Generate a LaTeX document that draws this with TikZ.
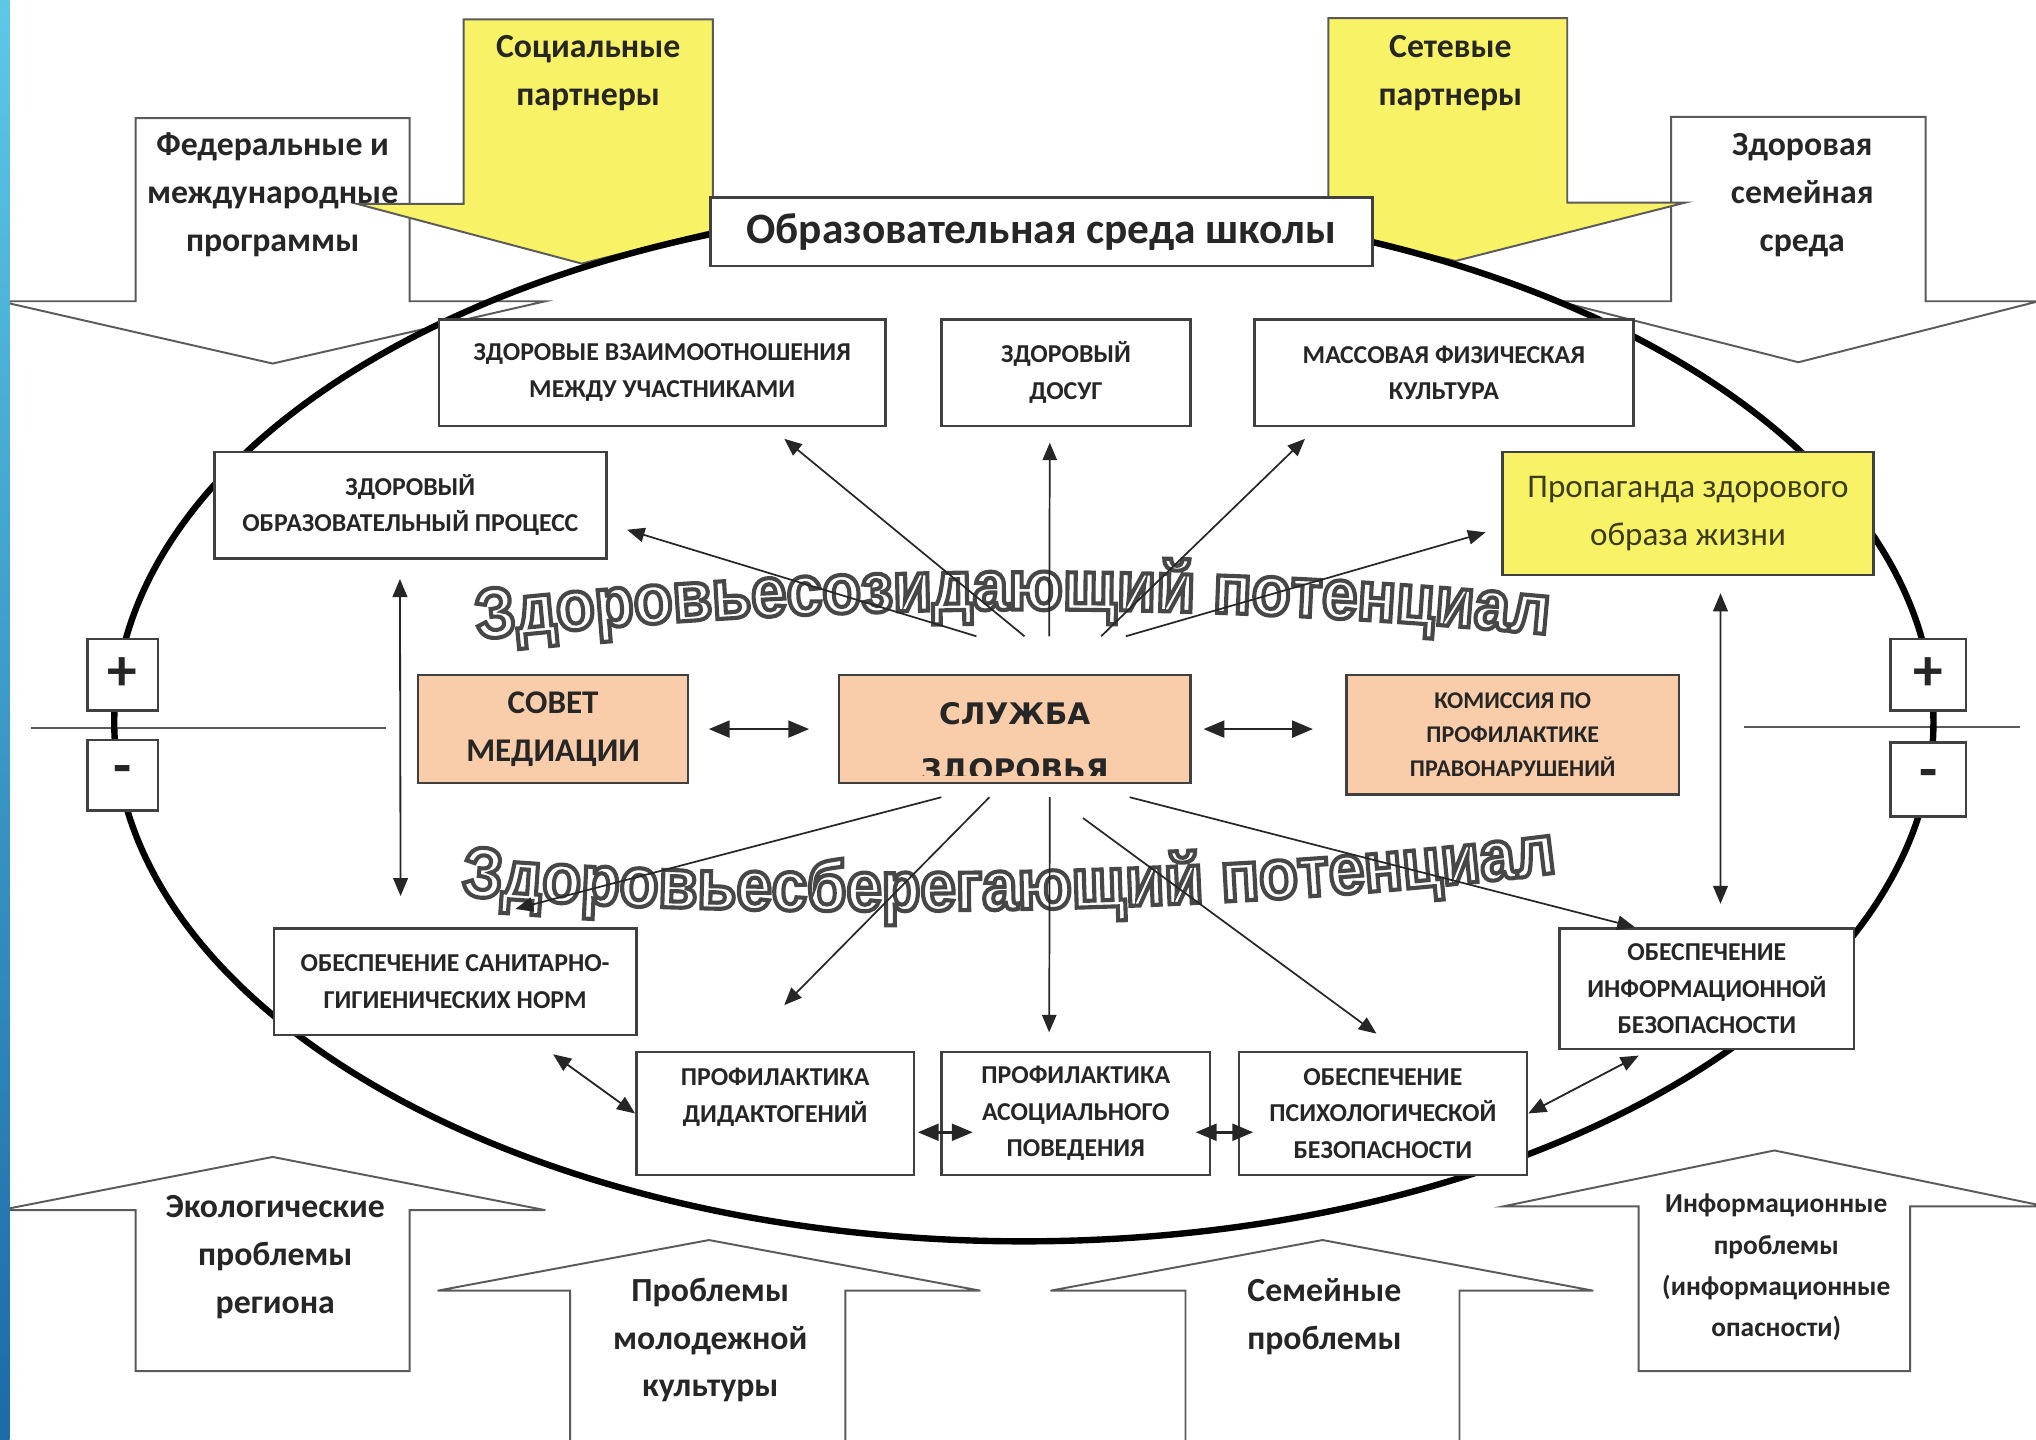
\documentclass[tikz,border=0pt]{standalone}
\usepackage{fontspec}
\setmainfont{Carlito}
\newfontfamily\verdanalike{DejaVu Sans}
\newfontfamily\wordartfamily{Liberation Sans}[FakeStretch=0.9]
\usepackage{tikz}
\usetikzlibrary{arrows,calc,decorations.text}

\definecolor{peach}{HTML}{FACDAA}
\definecolor{lemon}{HTML}{F8F366}
\definecolor{framegray}{HTML}{404040}
\definecolor{shapegray}{HTML}{5A5A5A}
\definecolor{inkgray}{HTML}{262626}
\definecolor{olivegray}{HTML}{3B3B1F}
\definecolor{striptop}{HTML}{5CC8E6}
\definecolor{stripbottom}{HTML}{1C6AA6}

\newcommand\wafont{\wordartfamily\bfseries\fontsize{31}{31}\selectfont}
% outlined letters: white fill, gray stroke
\newcommand\outlined{\color{white}\special{pdf:literal direct 0.28 0.28 0.28 RG 1.8 w 2 Tr}}
\newcommand\wordart[2]{%
  \begin{scope}
    \path[decorate, decoration={text along path, text align=center,
      text={|\wafont\outlined|#2}}] #1;
  \end{scope}}

\begin{document}
\begin{tikzpicture}[x=0.2mm, y=-0.2mm, >=triangle 45,
  wh/.style 2 args={minimum width=#1*0.2mm, minimum height=#2*0.2mm},
  box/.style={draw=framegray, line width=1.1pt, fill=white, inner sep=1pt,
    align=center, text=inkgray, font=\bfseries\fontsize{11.3}{16}\selectfont},
  sign/.style={box, font=\bfseries\fontsize{26}{26}\selectfont},
  blockarrow/.style={draw=shapegray, line width=0.85pt, fill=white},
  arrowtext/.style={align=center, text=inkgray,
    font=\bfseries\fontsize{14.8}{21}\selectfont},
  link/.style={->, draw=inkgray, line width=0.75pt},
  both/.style={<->, draw=inkgray, line width=0.8pt},
  axisline/.style={draw=shapegray, line width=0.9pt}]

  \useasboundingbox (0,0) rectangle (1568,1109);

  % influences from above
  \draw[blockarrow] (104.5,91) -- (315.5,91) -- (315.5,232) -- (420,232) -- (210,280)
    -- (0,232) -- (104.5,232) -- cycle;
  \node[arrowtext] (federal) at (210,150) {Федеральные и\\международные\\программы};
  \draw[blockarrow] (1287,90) -- (1483,90) -- (1483,232) -- (1570,232) -- (1385,279)
    -- (1200,232) -- (1287,232) -- cycle;
  \node[arrowtext] (familyenv) at (1388,150) {Здоровая\\семейная\\среда};
  \draw[blockarrow, fill=lemon] (357,15) -- (549,15) -- (549,157) -- (631,157) -- (448,203)
    -- (275,157) -- (357,157) -- cycle;
  \node[arrowtext] (social) at (453,56) {Социальные\\партнеры};
  \draw[blockarrow, fill=lemon] (1023,14) -- (1207,14) -- (1207,156) -- (1298,156) -- (1121,201)
    -- (932,156) -- (1023,156) -- cycle;
  \node[arrowtext] (network) at (1117,56) {Сетевые\\партнеры};

  % problems from below
  \draw[blockarrow] (104.5,1056) -- (315.5,1056) -- (315.5,932) -- (420,932) -- (210,891)
    -- (0,932) -- (104.5,932) -- cycle;
  \node[arrowtext] (ecology) at (212,968) {Экологические\\проблемы\\региона};
  \draw[blockarrow] (439,1120) -- (651,1120) -- (651,994) -- (755,994) -- (546,955)
    -- (337,994) -- (439,994) -- cycle;
  \node[arrowtext] (youth) at (547,1032) {Проблемы\\молодежной\\культуры};
  \draw[blockarrow] (913,1120) -- (1124,1120) -- (1124,994) -- (1227,994) -- (1018.5,955)
    -- (809,994) -- (913,994) -- cycle;
  \node[arrowtext] (familyprob) at (1020,1014) {Семейные\\проблемы};
  \draw[blockarrow] (1262,1056) -- (1471,1056) -- (1471,929) -- (1575,929) -- (1366.5,886)
    -- (1158,929) -- (1262,929) -- cycle;
  \node[arrowtext, font=\bfseries\fontsize{12}{18}\selectfont] (infoprob) at (1368,976)
    {Информационные\\проблемы\\(информационные\\опасности)};

  % scale lines
  \coordinate (axisLa) at (24,561);
  \coordinate (axisLb) at (297,561);
  \coordinate (axisRa) at (1343,560);
  \coordinate (axisRb) at (1556,560);
  \draw[axisline] (axisLa) -- (axisLb);
  \draw[axisline] (axisRa) -- (axisRb);

  \draw[line width=2.8pt] (788.5,556) ellipse [x radius=14.01cm, y radius=8cm];

  \node[box, wh={510}{53}, font=\bfseries\fontsize{19}{23}\selectfont] (school) at (802,178.5)
    {Образовательная среда школы};

  \wordart{(352,494) .. controls (640,462) and (920,462) .. (1208,490)}{Здоровьесозидающий потенциал}
  \wordart{(340,688) .. controls (500,705) and (900,712) .. (1214,670)}{Здоровьесберегающий потенциал}

  % upper boxes
  \node[box, wh={344}{82}] (relations) at (510,287) {ЗДОРОВЫЕ ВЗАИМООТНОШЕНИЯ\\МЕЖДУ УЧАСТНИКАМИ};
  \node[box, wh={192}{82}] (leisure) at (821,287) {ЗДОРОВЫЙ\\ДОСУГ};
  \node[box, wh={292}{82}] (sport) at (1112,287) {МАССОВАЯ ФИЗИЧЕСКАЯ\\КУЛЬТУРА};
  \node[box, wh={302}{82}] (process) at (316,389) {ЗДОРОВЫЙ\\ОБРАЗОВАТЕЛЬНЫЙ ПРОЦЕСС};
  \node[box, wh={286}{95}, fill=lemon, text=olivegray, font=\fontsize{14.5}{21}\selectfont]
    (propaganda) at (1300,395.5) {Пропаганда здорового\\образа жизни};

  % middle row
  \node[box, wh={208}{83}, fill=peach, font=\bfseries\fontsize{14.5}{21}\selectfont] (sovet) at (426,561.5)
    {СОВЕТ\\МЕДИАЦИИ};
  \node[box, wh={271}{83}, fill=peach, path picture={
      \clip ([yshift=0.12cm]path picture bounding box.south west)
        rectangle (path picture bounding box.north east);
      \node[align=center, text=inkgray, font=\verdanalike\bfseries\fontsize{13}{24.5}\selectfont]
        (servicetext) at ([yshift=-0.22cm]path picture bounding box.center) {СЛУЖБА\\ЗДОРОВЬЯ};
    }] (service) at (781.5,561.5) {};
  \node[box, wh={256}{92}, fill=peach, font=\bfseries\fontsize{10.5}{14.8}\selectfont]
    (commission) at (1165,566) {КОМИССИЯ ПО\\ПРОФИЛАКТИКЕ\\ПРАВОНАРУШЕНИЙ};

  % lower boxes
  \node[box, wh={279}{82}] (sanitary) at (350.5,756) {ОБЕСПЕЧЕНИЕ САНИТАРНО-\\ГИГИЕНИЧЕСКИХ НОРМ};
  \node[box, wh={227}{93}] (infosafety) at (1314.5,761.5) {ОБЕСПЕЧЕНИЕ\\ИНФОРМАЦИОННОЙ\\БЕЗОПАСНОСТИ};
  \node[box, wh={214}{95}] (didactogeny) at (597,857.5) {ПРОФИЛАКТИКА\\ДИДАКТОГЕНИЙ\\\mbox{}};
  \node[box, wh={207}{95}] (asocial) at (828.5,857.5) {ПРОФИЛАКТИКА\\АСОЦИАЛЬНОГО\\ПОВЕДЕНИЯ};
  \node[box, wh={222}{95}] (psychsafety) at (1065,857.5) {ОБЕСПЕЧЕНИЕ\\ПСИХОЛОГИЧЕСКОЙ\\БЕЗОПАСНОСТИ};

  % from the service upwards
  \draw[link] ($(service.north)+(-29.5,-29)$) -- ($(process.east)+(15,19)$);
  \draw[link] ($(service.north)+(7.5,-29)$) -- ($(relations.south)+(94,9)$);
  \draw[link] ($(service.north)+(26.5,-29)$) -- ($(leisure.south)+(-12.5,12)$);
  \draw[link] ($(service.north)+(66.5,-29)$) -- ($(sport.south)+(-107,9)$);
  \draw[link] ($(service.north)+(85.5,-29)$) -- ($(propaganda.west)+(-12,14.5)$);
  % and downwards
  \draw[link] ($(service.south)+(-56.5,10)$) -- ($(sanitary.north)+(46.5,-14)$);
  \draw[link] ($(service.south)+(-19.5,10)$) -- ($(didactogeny.north)+(7,-35)$);
  \draw[link] ($(service.south)+(27,10)$) -- ($(asocial.north)+(-20.5,-14)$);
  \draw[link] ($(service.south)+(52.5,26)$) -- ($(psychsafety.north)+(-5,-13)$);
  \draw[link] ($(service.south)+(88.5,10)$) -- ($(infosafety.north)+(-55.5,0)$);

  \draw[both] ($(process.south)+(-8,15)$) -- ($(sanitary.north)+(-42,-24)$);
  \draw[both] ($(propaganda.south)+(25,13)$) -- ($(infosafety.north)+(10.5,-18)$);
  \draw[both, line width=1.1pt] ($(sovet.east)+(15,0)$) -- ($(service.west)+(-22,0)$);
  \draw[both, line width=1.1pt] ($(service.east)+(9,0)$) -- ($(commission.west |- service.east)+(-25,0)$);
  \draw[both] ($(sanitary.south)+(75.5,14)$) -- (didactogeny.west);
  \draw[both] ($(infosafety.south)+(-52.5,4)$) -- (psychsafety.east);
  \draw[both, line width=1.1pt] ($(didactogeny.east)+(2,14.5)$) -- ($(asocial.west)+(25,14.5)$);
  \draw[both, line width=1.1pt] ($(asocial.east)+(-12,14.5)$) -- ($(psychsafety.west)+(12,14.5)$);

  % plus / minus
  \node[sign, wh={54}{55}] (plusL) at (94.5,519.5) {+};
  \node[sign, wh={54}{54}] (minusL) at (94.5,597) {-};
  \node[sign, wh={58}{55}] (plusR) at (1485,519.5) {+};
  \node[sign, wh={58}{57}] (minusR) at (1485,600.5) {-};

  \shade[top color=striptop, bottom color=stripbottom] (0,0) rectangle (7.5,1109);
\end{tikzpicture}
\end{document}
